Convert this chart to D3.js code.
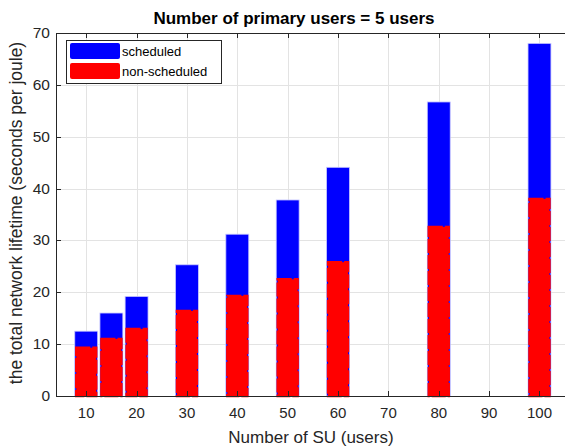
<!DOCTYPE html>
<html>
<head>
<meta charset="utf-8">
<script src="https://cdn.jsdelivr.net/npm/d3@7"></script>
<style>
  html, body { margin: 0; padding: 0; background: #fff; }
  svg { display: block; font-family: "Liberation Sans", Arial, sans-serif; }
</style>
</head>
<body>
<svg id="chart" width="565" height="448"></svg>
<script>
// Secondary-user counts and network lifetime for both schemes
const suCounts = [10, 15, 20, 30, 40, 50, 60, 80, 100];
const scheduled = [12.5, 16.0, 19.2, 25.3, 31.2, 37.8, 44.1, 56.7, 68.0];
const nonScheduled = [9.5, 11.2, 13.1, 16.6, 19.5, 22.7, 26.0, 32.8, 38.2];
const xTicks = [10, 20, 30, 40, 50, 60, 70, 80, 90, 100];
const yTicks = [0, 10, 20, 30, 40, 50, 60, 70];
const seriesNames = ["scheduled", "non-scheduled"];
const seriesColors = ["#0000ff", "#ff0000"];

const svg = d3.select("#chart");
const plotLeft = 56, plotTop = 33, plotBottom = 396;
const x = d3.scaleLinear().domain([4, 106]).range([plotLeft, 569.7]);
const y = d3.scaleLinear().domain([0, 70]).range([plotBottom, plotTop]);
const barW = x(4.55) - x(0);

// grid
const grid = svg.append("g").attr("stroke", "#e3e3e3").attr("stroke-width", 1);
grid.selectAll("line.gx").data(xTicks).join("line")
  .attr("x1", d => Math.round(x(d)) + 0.5).attr("x2", d => Math.round(x(d)) + 0.5)
  .attr("y1", plotTop).attr("y2", plotBottom);
grid.selectAll("line.gy").data(yTicks.filter(d => d > 0 && d < 70)).join("line")
  .attr("x1", plotLeft).attr("x2", 565)
  .attr("y1", d => Math.round(y(d)) + 0.5).attr("y2", d => Math.round(y(d)) + 0.5);

// scheduled bars
svg.append("g").selectAll("rect").data(suCounts).join("rect")
  .attr("x", (d) => x(d) - barW / 2)
  .attr("y", (d, i) => y(scheduled[i]))
  .attr("width", barW)
  .attr("height", (d, i) => y(0) - y(scheduled[i]))
  .attr("fill", seriesColors[0])
  .attr("stroke", "#c8c8ff").attr("stroke-width", 0.8);

// non-scheduled bars drawn on top with a thick dashed edge
const red = svg.append("g");
red.selectAll("rect").data(suCounts).join("rect")
  .attr("x", (d) => x(d) - barW / 2 + 1.5)
  .attr("y", (d, i) => y(nonScheduled[i]) + 1)
  .attr("width", barW - 3)
  .attr("height", (d, i) => y(0) - y(nonScheduled[i]) - 1)
  .attr("fill", seriesColors[1])
  .attr("stroke", seriesColors[1]).attr("stroke-width", 2.5)
  .attr("stroke-dasharray", "14,2");

// axes
const axisG = svg.append("g").attr("stroke", "#262626").attr("stroke-width", 1).attr("fill", "none");
axisG.append("line").attr("x1", plotLeft + 0.5).attr("x2", plotLeft + 0.5).attr("y1", plotTop).attr("y2", plotBottom + 0.5);
axisG.append("line").attr("x1", plotLeft).attr("x2", 565).attr("y1", plotBottom + 0.5).attr("y2", plotBottom + 0.5);
axisG.append("line").attr("x1", plotLeft).attr("x2", 565).attr("y1", plotTop + 0.5).attr("y2", plotTop + 0.5);
// tick marks (inward)
axisG.selectAll("line.tb").data(xTicks).join("line")
  .attr("x1", d => Math.round(x(d)) + 0.5).attr("x2", d => Math.round(x(d)) + 0.5)
  .attr("y1", plotBottom).attr("y2", plotBottom - 5);
axisG.selectAll("line.tt").data(xTicks).join("line")
  .attr("x1", d => Math.round(x(d)) + 0.5).attr("x2", d => Math.round(x(d)) + 0.5)
  .attr("y1", plotTop).attr("y2", plotTop + 5);
axisG.selectAll("line.tl").data(yTicks).join("line")
  .attr("x1", plotLeft).attr("x2", plotLeft + 5)
  .attr("y1", d => Math.round(y(d)) + 0.5).attr("y2", d => Math.round(y(d)) + 0.5);

// tick labels
svg.append("g").selectAll("text").data(xTicks).join("text")
  .attr("x", d => x(d)).attr("y", 418)
  .attr("text-anchor", "middle").attr("font-size", 15).attr("fill", "#262626")
  .text(d => d);
svg.append("g").selectAll("text").data(yTicks).join("text")
  .attr("x", 50).attr("y", d => y(d) + 5)
  .attr("text-anchor", "end").attr("font-size", 15.5).attr("fill", "#262626")
  .text(d => d);

// titles
svg.append("text").attr("x", 294).attr("y", 24).attr("text-anchor", "middle")
  .attr("font-size", 17).attr("font-weight", "bold").attr("fill", "#000")
  .text("Number of primary users = 5 users");
svg.append("text").attr("x", 311).attr("y", 443).attr("text-anchor", "middle")
  .attr("font-size", 17).attr("fill", "#262626")
  .text("Number of SU (users)");
svg.append("text").attr("transform", "translate(22,213) rotate(-90)")
  .attr("text-anchor", "middle").attr("font-size", 17.5).attr("fill", "#262626")
  .text("the total network lifetime (seconds per joule)");

// legend
const lg = svg.append("g");
lg.append("rect").attr("x", 66.5).attr("y", 40.5).attr("width", 155).attr("height", 43)
  .attr("fill", "#fff").attr("stroke", "#262626").attr("stroke-width", 1);
seriesNames.forEach((name, i) => {
  const yy = 43 + i * 20;
  lg.append("rect").attr("x", 70).attr("y", yy).attr("width", 50).attr("height", 16)
    .attr("rx", 2).attr("fill", seriesColors[i]);
  lg.append("text").attr("x", 122).attr("y", yy + 13)
    .attr("font-size", 13).attr("fill", "#000").text(name);
});
</script>
</body>
</html>
